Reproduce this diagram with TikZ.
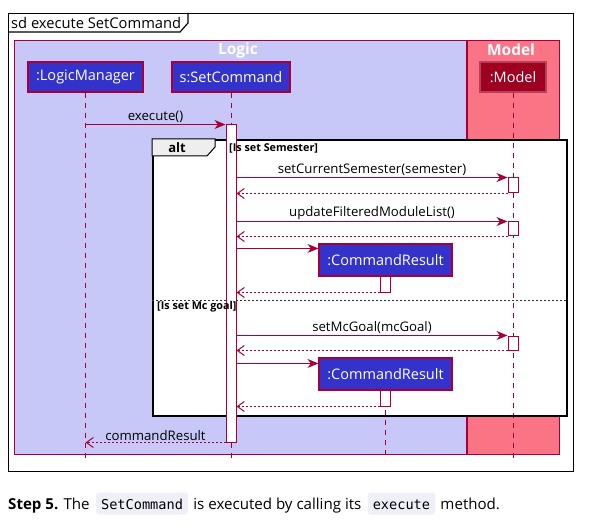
\documentclass[tikz,border=0pt]{standalone}
\usepackage{fontspec}
\setmainfont{Open Sans}
\setmonofont{DejaVu Sans Mono}
\usetikzlibrary{arrows.meta}
\definecolor{crim}{HTML}{A80036}
\definecolor{logicbg}{HTML}{C8C8F8}
\definecolor{modelbg}{HTML}{FA7486}
\definecolor{partblue}{HTML}{3333CC}
\definecolor{partred}{HTML}{9D0020}
\definecolor{altgray}{HTML}{EEEEEE}
\definecolor{codebg}{HTML}{EFEFF8}
\begin{document}
\begin{tikzpicture}[x=1pt,y=-1pt,
  part/.style={draw=crim, line width=1.1pt, fill=partblue, text=white, font=\fontsize{14.5}{16}\selectfont, minimum height=30pt, inner sep=0pt},
  act/.style={draw=crim, line width=1pt, fill=white, minimum width=10pt, inner sep=0pt},
  lifeline/.style={draw=crim, line width=0.9pt, dash pattern=on 5pt off 5pt},
  msg/.style={draw=crim, line width=1pt, -{Stealth[length=11pt,width=9pt,inset=3.5pt]}},
  ret/.style={draw=crim, line width=1pt, dash pattern=on 2pt off 2pt, -{Straight Barb[length=7pt,width=10pt]}},
  lbl/.style={midway, above, inner sep=1.5pt, font=\fontsize{13.2}{15}\selectfont, text=black},
  grp/.style={draw=crim, line width=1pt, minimum height=414pt, inner sep=0pt, anchor=north west},
  grptitle/.style={font=\bfseries\fontsize{15.5}{17}\selectfont, text=white, inner sep=0pt},
  guard/.style={font=\bfseries\fontsize{10.8}{12}\selectfont, anchor=west, inner sep=0pt},
  captxt/.style={anchor=base west, inner sep=0pt, font=\fontsize{15.1}{18}\selectfont},
  code/.style={anchor=base west, fill=codebg, rounded corners=3pt, inner xsep=5pt, inner ysep=4.5pt, text height=12pt, text depth=1pt, font=\ttfamily\fontsize{13.6}{16}\selectfont},
]
\useasboundingbox (0,0) rectangle (599,529);
% outer frame
\node[draw, line width=1.2pt, minimum width=565pt, minimum height=458pt, inner sep=0pt, anchor=north west] (frame) at (8,13) {};
\draw[line width=1.2pt] (8,32) -- (180,32) -- (188,23) -- (188,13);
\node[anchor=west, inner sep=0pt, font=\fontsize{14.7}{16}\selectfont] (sdlabel) at (11,22.5) {sd execute SetCommand};
% groups
\node[grp, fill=logicbg, minimum width=451.5pt] (logic) at (14,40) {};
\node[grp, fill=modelbg, minimum width=92pt] (model) at (467,40) {};
\node[grptitle] (logict) at (238,50) {Logic};
\node[grptitle] (modelt) at (511,50) {Model};
% alt background
\node[fill=white, minimum width=414pt, minimum height=276pt, inner sep=0pt, anchor=north west] (altbg) at (152,139) {};
% participants (placed first for lifelines)
\node[part, minimum width=115pt] (lm) at (85.5,77) {:LogicManager};
\node[part, minimum width=118pt] (sc) at (231,77) {s:SetCommand};
\node[part, minimum width=66pt, fill=partred, draw=partred!75!white] (md) at (513,77) {:Model};
% lifelines
\coordinate (llend) at (0,459);
\draw[lifeline] (lm.south) -- (lm.south |- llend);
\draw[lifeline] (sc.south) -- (sc.south |- llend);
\draw[lifeline] (md.south) -- (md.south |- llend);
\draw[lifeline] (385,390) -- (385,460);
% alt frame
\node[draw, line width=2pt, minimum width=414pt, minimum height=276pt, inner sep=0pt, anchor=north west] (alt) at (152,139) {};
\filldraw[fill=altgray, draw=black, line width=1pt] (152,139) -- (215,139) -- (215,147) -- (207,156) -- (152,156) -- cycle;
\node[font=\bfseries\fontsize{13}{15}\selectfont, inner sep=0pt] (altt) at (177,148) {alt};
\draw[draw=black!80, line width=1pt, dash pattern=on 2pt off 2pt] (152,300.5) -- (566,300.5);
% activations
\node[act, minimum height=317pt] (sca) at (231,283.5) {};
\node[act, minimum height=15pt] (ma1) at (513,185.5) {};
\node[act, minimum height=14pt] (ma2) at (513,229) {};
\node[act, minimum height=16pt] (cra1) at (385,284) {};
\node[act, minimum height=14pt] (ma3) at (513,343) {};
\node[act, minimum height=16pt] (cra2) at (385,398) {};
% created participants
\node[part, minimum width=133pt, minimum height=32pt] (cr1) at (385.5,260) {:CommandResult};
\node[part, minimum width=133pt, minimum height=32pt] (cr2) at (385.5,374) {:CommandResult};
\coordinate (c1) at ([yshift=-5pt]cr1.north west);
\coordinate (c2) at ([yshift=-6pt]cr2.north west);
% messages
\draw[msg] (sca.north west -| lm.center) -- (sca.north west) node[lbl] {execute()};
\draw[msg] (ma1.north west -| sca.east) -- (ma1.north west) node[lbl] {setCurrentSemester(semester)};
\draw[ret] (ma1.south west) -- (ma1.south west -| sca.east);
\draw[msg] (ma2.north west -| sca.east) -- (ma2.north west) node[lbl] {updateFilteredModuleList()};
\draw[ret] (ma2.south west) -- (ma2.south west -| sca.east);
\draw[msg] (c1 -| sca.east) -- (c1);
\draw[ret] (cra1.south west) -- (cra1.south west -| sca.east);
\draw[msg] (ma3.north west -| sca.east) -- (ma3.north west) node[lbl] {setMcGoal(mcGoal)};
\draw[ret] (ma3.south west) -- (ma3.south west -| sca.east);
\draw[msg] (c2 -| sca.east) -- (c2);
\draw[ret] (cra2.south west) -- (cra2.south west -| sca.east);
\draw[ret] (sca.south west) -- (sca.south west -| lm.center) node[lbl] {commandResult};
% guards
\node[guard] (g1) at (229,148.5) {[Is set Semester]};
\node[guard] (g2) at (157,307) {[Is set Mc goal]};
% caption
\node[captxt] (cap1) at (8,509) {\textbf{Step 5.} The};
\node[code] (code1) at ([xshift=6pt]cap1.base east) {SetCommand};
\node[captxt] (cap2) at ([xshift=5pt]code1.base east) {is executed by calling its};
\node[code] (code2) at ([xshift=6pt]cap2.base east) {execute};
\node[captxt] (cap3) at ([xshift=5pt]code2.base east) {method.};
\end{tikzpicture}
\end{document}
